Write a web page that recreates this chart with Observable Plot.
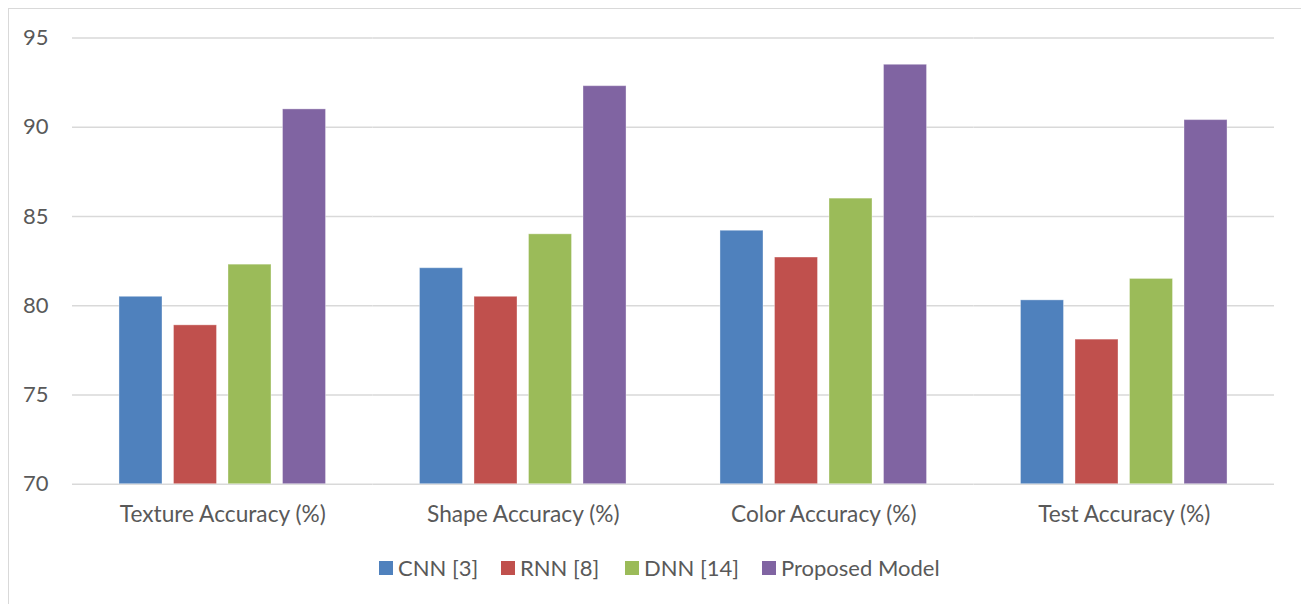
<!DOCTYPE html>
<html>
<head>
<meta charset="utf-8">
<script src="https://cdn.jsdelivr.net/npm/d3@7"></script>
<script src="https://cdn.jsdelivr.net/npm/@observablehq/plot@0.6"></script>
<style>
  html, body { margin: 0; padding: 0; background: #fff; width: 1301px; height: 604px; overflow: hidden; }
  #frame { position: absolute; left: 8px; top: 8px; width: 1400px; height: 700px; border: 1.5px solid #d9d9d9; box-sizing: border-box; }
  #chart { position: absolute; left: 0; top: 0; }
  #chart g[aria-label="fx-axis tick label"] { font-size: 22.7px; }
  #legend { position: absolute; left: 379px; top: 554px; display: flex; align-items: center; font-family: Lato, sans-serif; font-size: 22px; color: #595959; white-space: nowrap; }
  .item { display: flex; align-items: center; }
  .sw { width: 14px; height: 14px; margin-right: 5px; }
</style>
</head>
<body>
<div id="frame"></div>
<div id="chart"></div>
<div id="legend"></div>
<script>
const categories = ["Texture Accuracy (%)", "Shape Accuracy (%)", "Color Accuracy (%)", "Test Accuracy (%)"];
const models = ["CNN [3]", "RNN [8]", "DNN [14]", "Proposed Model"];
const cnnValues = [80.5, 82.1, 84.2, 80.3];
const rnnValues = [78.9, 80.5, 82.7, 78.1];
const dnnValues = [82.3, 84.0, 86.0, 81.5];
const proposedValues = [91.0, 92.3, 93.5, 90.4];
const colors = ["#4f81bd", "#c0504d", "#9bbb59", "#8064a2"];
const yTicks = [70, 75, 80, 85, 90, 95];

const series = [cnnValues, rnnValues, dnnValues, proposedValues];
const data = [];
categories.forEach((c, i) => {
  models.forEach((m, j) => data.push({category: c, model: m, value: series[j][i]}));
});

const chart = Plot.plot({
  width: 1301,
  height: 540,
  marginLeft: 72,
  marginRight: 27,
  marginTop: 37.5,
  marginBottom: 56.3,
  style: {fontFamily: "Lato, sans-serif", fontSize: "22px", color: "#595959", background: "transparent"},
  fx: {domain: categories, padding: 0, round: false, label: null, axis: "bottom", tickSize: 0, tickPadding: 22},
  x: {domain: models, paddingInner: 0.211, paddingOuter: 0.862, round: false, axis: null},
  y: {domain: [70, 95], ticks: yTicks, tickSize: 0, tickPadding: 24, label: null},
  color: {domain: models, range: colors},
  marks: [
    Plot.ruleY(yTicks, {stroke: "#d9d9d9", strokeWidth: 1.5}),
    Plot.barY(data, {fx: "category", x: "model", y1: 70, y2: "value", fill: "model", stroke: "#ffffff", strokeOpacity: 0.35, strokeWidth: 1})
  ]
});
document.getElementById("chart").appendChild(chart);

// legend item widths (square start to next square start) as in the reference
const legendItemWidths = [122, 124, 137, null];
const legend = document.getElementById("legend");
models.forEach((m, i) => {
  const it = document.createElement("div");
  it.className = "item";
  if (legendItemWidths[i]) it.style.width = legendItemWidths[i] + "px";
  const sw = document.createElement("div");
  sw.className = "sw";
  sw.style.background = colors[i];
  const tx = document.createElement("span");
  tx.textContent = m;
  it.appendChild(sw);
  it.appendChild(tx);
  legend.appendChild(it);
});
</script>
</body>
</html>
